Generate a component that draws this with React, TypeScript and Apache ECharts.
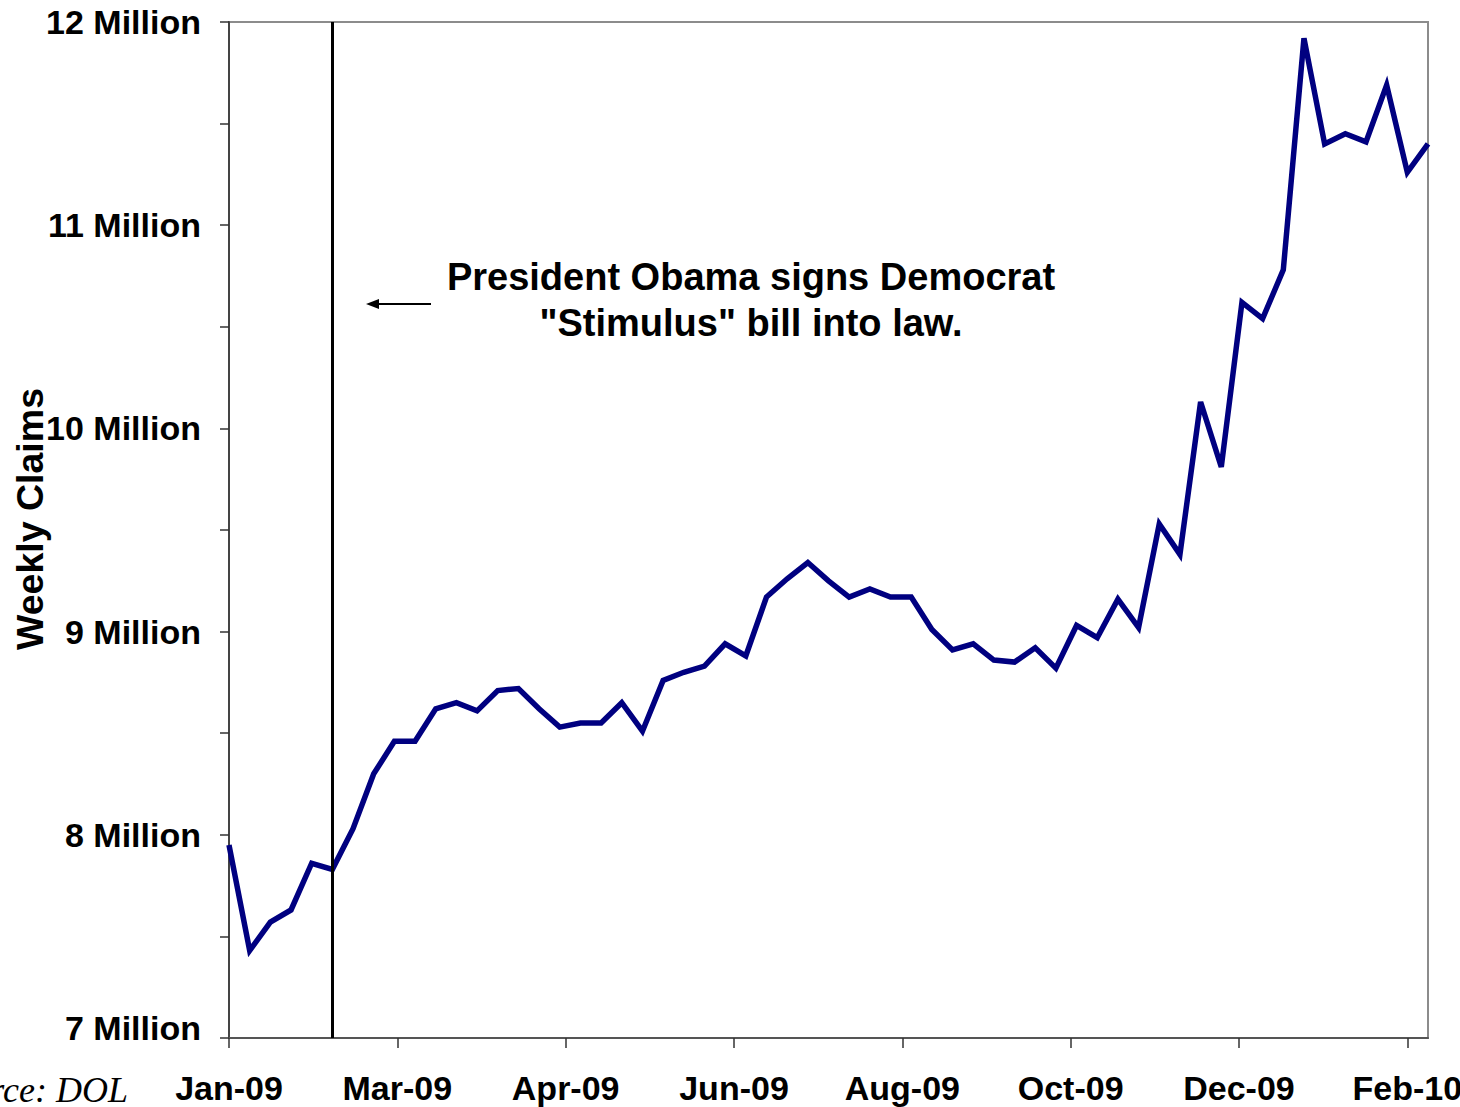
import React, { useEffect, useRef } from "react";
import * as echarts from "echarts";

// Weekly continuing claims, in millions (week 0 = first week of Jan 2009)
const weekIndex: number[] = [
  0, 1, 2, 3, 4, 5, 6, 7, 8, 9, 10, 11, 12, 13, 14, 15, 16, 17, 18, 19,
  20, 21, 22, 23, 24, 25, 26, 27, 28, 29, 30, 31, 32, 33, 34, 35, 36, 37, 38, 39,
  40, 41, 42, 43, 44, 45, 46, 47, 48, 49, 50, 51, 52, 53, 54, 55, 56, 57, 58,
];
const claims: number[] = [
  7.95, 7.43, 7.57, 7.63, 7.86, 7.83, 8.03, 8.3, 8.46, 8.46,
  8.62, 8.65, 8.61, 8.71, 8.72, 8.62, 8.53, 8.55, 8.55, 8.65,
  8.51, 8.76, 8.8, 8.83, 8.94, 8.88, 9.17, 9.26, 9.34, 9.25,
  9.17, 9.21, 9.17, 9.17, 9.01, 8.91, 8.94, 8.86, 8.85, 8.92,
  8.82, 9.03, 8.97, 9.16, 9.02, 9.53, 9.38, 10.13, 9.81, 10.62,
  10.54, 10.78, 11.92, 11.4, 11.45, 11.41, 11.69, 11.26, 11.4,
];
const xTickLabels: string[] = [
  "Jan-09", "Mar-09", "Apr-09", "Jun-09", "Aug-09", "Oct-09", "Dec-09", "Feb-10",
];
const xTickStepDays = 57;
const stimulusWeek = 5;
const annotationLines: string[] = [
  "President Obama signs Democrat",
  "\"Stimulus\" bill into law.",
];

export default function App() {
  const ref = useRef<HTMLDivElement>(null);
  useEffect(() => {
    if (!ref.current) return;
    const chart = echarts.init(ref.current, null, { renderer: "svg" });
    const data = weekIndex.map((w, i) => [w * 7, claims[i]]);
    const labelFont = '"Liberation Sans", Arial, sans-serif';
    chart.setOption({
      animation: false,
      backgroundColor: "#ffffff",
      grid: {
        left: 229,
        right: 32,
        top: 22,
        bottom: 69,
        outerBoundsMode: "none",
        containLabel: false,
        show: true,
        borderColor: "#8c8c8c",
        borderWidth: 2,
        backgroundColor: "transparent",
      },
      xAxis: {
        type: "value",
        min: 0,
        max: 406,
        interval: xTickStepDays,
        splitLine: { show: false },
        axisLine: { show: true, lineStyle: { color: "#555555", width: 2 } },
        axisTick: { show: true, inside: false, length: 10, lineStyle: { color: "#333333", width: 1.5 } },
        axisLabel: {
          margin: 33,
          color: "#000000",
          fontFamily: labelFont,
          fontWeight: "bold",
          fontSize: 34,
          showMaxLabel: false,
          formatter: (v: number) =>
            v % xTickStepDays === 0 ? xTickLabels[v / xTickStepDays] ?? "" : "",
        },
      },
      yAxis: {
        type: "value",
        min: 7,
        max: 12,
        interval: 0.5,
        splitLine: { show: false },
        axisLine: { show: true, lineStyle: { color: "#444444", width: 2 } },
        axisTick: { show: true, inside: false, length: 9, lineStyle: { color: "#333333", width: 1.5 } },
        axisLabel: {
          margin: 28,
          color: "#000000",
          fontFamily: labelFont,
          fontWeight: "bold",
          fontSize: 34,
          formatter: (v: number) => {
            if (!Number.isInteger(v)) return "";
            return v === 7 ? `{low|${v} Million}` : `${v} Million`;
          },
          rich: {
            low: {
              fontFamily: labelFont,
              fontWeight: "bold",
              fontSize: 34,
              color: "#000000",
              padding: [0, 0, 20, 0],
            },
          },
        },
      },
      series: [
        {
          type: "line",
          data,
          showSymbol: false,
          symbol: "none",
          lineStyle: { color: "#000080", width: 5.5, join: "miter" },
          z: 3,
          markLine: {
            silent: true,
            symbol: "none",
            label: { show: false },
            lineStyle: { color: "#000000", width: 3, type: "solid" },
            data: [{ xAxis: stimulusWeek * 7 }],
          },
        },
      ],
      graphic: [
        {
          type: "text",
          x: 30,
          y: 519,
          rotation: Math.PI / 2,
          style: {
            text: "Weekly Claims",
            fill: "#000000",
            font: `bold 37.5px ${labelFont}`,
            textAlign: "center",
            textVerticalAlign: "middle",
          },
        },
        {
          type: "text",
          x: 751,
          y: 277,
          style: {
            text: annotationLines[0],
            fill: "#000000",
            font: `bold 38px ${labelFont}`,
            textAlign: "center",
            textVerticalAlign: "middle",
          },
        },
        {
          type: "text",
          x: 751,
          y: 323,
          style: {
            text: annotationLines[1],
            fill: "#000000",
            font: `bold 38px ${labelFont}`,
            textAlign: "center",
            textVerticalAlign: "middle",
          },
        },
        {
          type: "line",
          shape: { x1: 431, y1: 304, x2: 374, y2: 304 },
          style: { stroke: "#000000", lineWidth: 2 },
        },
        {
          type: "polygon",
          shape: { points: [[366, 304], [379, 299], [379, 309]] },
          style: { fill: "#000000" },
        },
        {
          type: "text",
          x: 128,
          y: 1090,
          style: {
            text: "Source: DOL",
            fill: "#000000",
            font: 'italic 36px "Liberation Serif", "Times New Roman", serif',
            textAlign: "right",
            textVerticalAlign: "middle",
          },
        },
      ],
    });
    return () => chart.dispose();
  }, []);
  return (
    <div
      ref={ref}
      style={{ position: "fixed", left: 0, top: 0, width: 1460, height: 1107 }}
    />
  );
}
